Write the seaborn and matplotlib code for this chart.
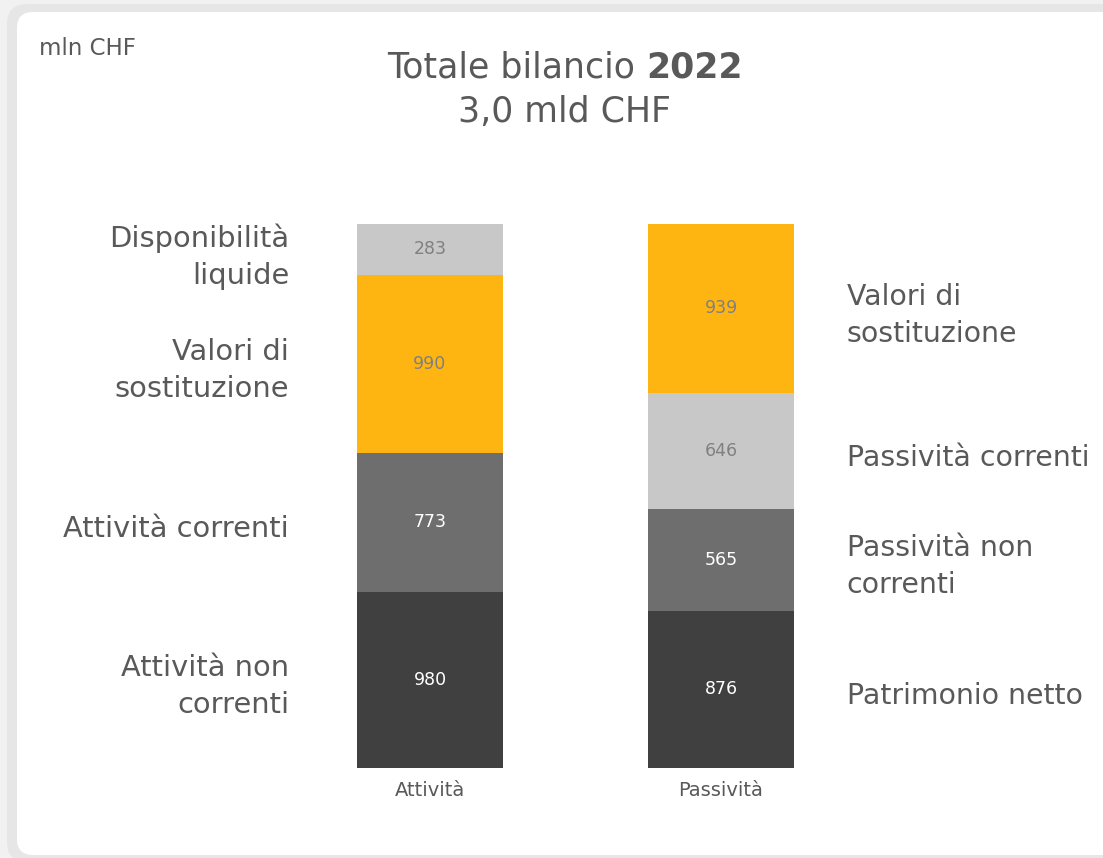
import matplotlib
matplotlib.use("Agg")
import matplotlib.pyplot as plt
from matplotlib.patches import FancyBboxPatch
import numpy as np
import pandas as pd
import seaborn as sns

# dati (mln CHF), dal basso verso l'alto
categorie = ["Attività", "Passività"]

voci_attivita = ["Attività non correnti", "Attività correnti",
                 "Valori di sostituzione", "Disponibilità liquide"]
valori_attivita = [980, 773, 990, 283]
etichette_attivita = ["Attività non\ncorrenti", "Attività correnti",
                      "Valori di\nsostituzione", "Disponibilità\nliquide"]

voci_passivita = ["Patrimonio netto", "Passività non correnti",
                  "Passività correnti", "Valori di sostituzione"]
valori_passivita = [876, 565, 646, 939]
etichette_passivita = ["Patrimonio netto", "Passività non\ncorrenti",
                       "Passività correnti", "Valori di\nsostituzione"]

titolo = "Totale bilancio"
anno = "2022"
sottotitolo = "3,0 mld CHF"
unita = "mln CHF"

SCURO, MEDIO, CHIARO, GIALLO = "#404040", "#6e6e6e", "#c8c8c8", "#ffb511"
colori = {
    "Attività non correnti": SCURO,
    "Attività correnti": MEDIO,
    "Valori di sostituzione": GIALLO,
    "Disponibilità liquide": CHIARO,
    "Patrimonio netto": SCURO,
    "Passività non correnti": MEDIO,
    "Passività correnti": CHIARO,
}
TESTO = "#595959"

# tabella lunga con le cime cumulate di ogni strato
righe = []
for cat, voci, valori, etich in [(categorie[0], voci_attivita, valori_attivita, etichette_attivita),
                                 (categorie[1], voci_passivita, valori_passivita, etichette_passivita)]:
    cime = np.cumsum(valori)
    for k, (v, val, et) in enumerate(zip(voci, valori, etich)):
        righe.append(dict(categoria=cat, strato=k, voce=v, valore=val, etichetta=et,
                          cima=cime[k], centro=cime[k] - val / 2))
df = pd.DataFrame(righe)
totale = df.groupby("categoria")["valore"].sum().max()

sns.set_style("white")
plt.rcParams["font.family"] = ["DejaVu Sans"]

W, H = 1103, 858
fig = plt.figure(figsize=(W / 100, H / 100), dpi=100, facecolor="#f1f1f1")

# sfondo: scheda bianca con ombra
bg = fig.add_axes([0, 0, 1, 1], zorder=-1)
bg.set_xlim(0, W)
bg.set_ylim(H, 0)
bg.axis("off")
bg.add_patch(FancyBboxPatch((7, 4), W + 20, H, boxstyle="round,pad=0,rounding_size=20",
                            facecolor="#e6e6e6", edgecolor="none"))
bg.add_patch(FancyBboxPatch((17, 12), W + 20, 843, boxstyle="round,pad=0,rounding_size=16",
                            facecolor="white", edgecolor="none"))

ax = fig.add_axes([284.5 / W, 90 / H, 582 / W, 544 / H])
ax.set_facecolor("none")

# barre impilate: prima le cime più alte, poi quelle più basse sopra
for k in reversed(range(4)):
    sub = df[df["strato"] == k]
    sns.barplot(data=sub, x="categoria", y="cima", hue="voce", order=categorie,
                palette={v: colori[v] for v in sub["voce"]}, dodge=False, width=0.5,
                saturation=1, linewidth=0, edgecolor="none", legend=False, ax=ax)

for _, r in df.iterrows():
    i = categorie.index(r["categoria"])
    c = colori[r["voce"]]
    ax.text(i, r["centro"], str(r["valore"]), ha="center", va="center", fontsize=12.5,
            color="white" if c in (SCURO, MEDIO) else "#808080")
    if i == 0:
        ax.annotate(r["etichetta"], xy=(i - 0.25, r["centro"]), xytext=(-49, -5),
                    textcoords="offset points", ha="right", va="center",
                    fontsize=20.8, color=TESTO, linespacing=1.4)
    else:
        ax.annotate(r["etichetta"], xy=(i + 0.25, r["centro"]), xytext=(38, -5),
                    textcoords="offset points", ha="left", va="center",
                    fontsize=20.4, color=TESTO, linespacing=1.4)

ax.set_xlim(-0.5, 1.5)
ax.set_ylim(0, totale)
ax.set_xlabel("")
ax.set_ylabel("")
ax.set_yticks([])
ax.tick_params(axis="x", length=0, pad=9, labelsize=14, labelcolor=TESTO)
sns.despine(ax=ax, left=True, bottom=True)

# titolo con l'anno in grassetto, centrato
y1 = 1 - 78 / H
t1 = fig.text(0, y1, titolo, va="baseline", fontsize=25, color=TESTO)
t2 = fig.text(0, y1, anno, va="baseline", fontsize=25, fontweight="bold", color=TESTO)
fig.canvas.draw()
r = fig.canvas.get_renderer()
w1 = t1.get_window_extent(r).width
w2 = t2.get_window_extent(r).width
gap = 11
sx = 565 - (w1 + gap + w2) / 2
t1.set_x(sx / W)
t2.set_x((sx + w1 + gap) / W)
fig.text(565 / W, 1 - 122 / H, sottotitolo, ha="center", va="baseline", fontsize=25, color=TESTO)
fig.text(39 / W, 1 - 55 / H, unita, ha="left", va="baseline", fontsize=16.5, color=TESTO)

fig.savefig("out.png", dpi=100, facecolor=fig.get_facecolor())
